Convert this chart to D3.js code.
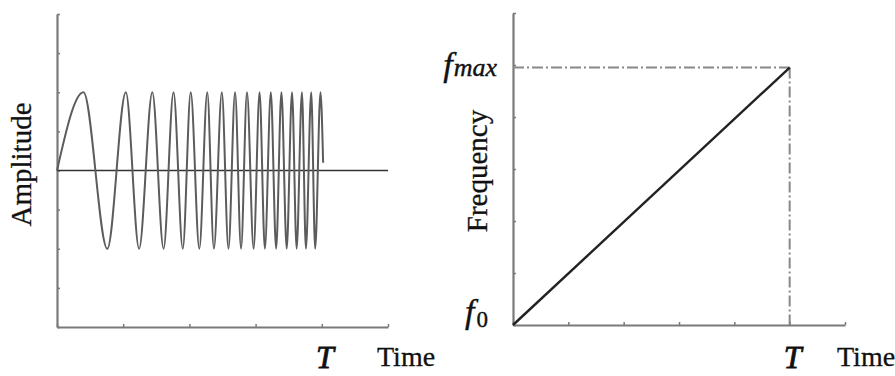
<!DOCTYPE html>
<html>
<head>
<meta charset="utf-8">
<script src="https://cdn.jsdelivr.net/npm/d3@7"></script>
<style>
  html, body { margin: 0; padding: 0; background: #fff; }
  svg { display: block; }
  text { font-family: "Liberation Serif", "DejaVu Serif", serif; fill: #111; }
</style>
</head>
<body>
<svg id="chart" width="895" height="376"></svg>
<script>
// Linear chirp: times (in axis units) of each crest and trough of the waveform
const chirpPeaks   = [0.40, 1.04, 1.44, 1.76, 2.02, 2.27, 2.49, 2.69, 2.87, 3.06, 3.23, 3.39, 3.55, 3.70, 3.84, 3.98];
const chirpTroughs = [0.76, 1.24, 1.61, 1.90, 2.15, 2.37, 2.59, 2.78, 2.97, 3.14, 3.31, 3.47, 3.62, 3.76, 3.90];
const chirpAmplitude = 2;
const chirpStart = [0, 0];
const chirpEnd = [4.02, 0.2];

// Axis tick positions
const ampTimeTicks = [0, 1, 2, 3, 4, 5];
const ampTicks = [-4, -3, -2, -1, 0, 1, 2, 3, 4];
const freqTimeTicks = [0, 1, 2, 3, 4, 5, 6];
const freqTicks = [0, 1, 2, 3, 4, 5, 6];

// Frequency sweep: time T and the start / end frequencies
const sweepT = 5;
const sweepTimes = [0, sweepT];
const sweepFreqs = [0, 4.95];

const svg = d3.select("#chart");
const axisColor = "#7a7a7a";

function styleAxis(g) {
  g.select(".domain").attr("stroke", axisColor).attr("stroke-width", 2.2);
  g.selectAll(".tick line").attr("stroke", axisColor).attr("stroke-width", 1.5);
  g.selectAll(".tick text").remove();
}

// ---------- Left panel: amplitude vs time ----------
const xA = d3.scaleLinear().domain([0, 5]).range([57, 388]);
const yA = d3.scaleLinear().domain([-4, 4]).range([327, 14]);

svg.append("g")
  .attr("transform", `translate(0,${yA(-4)})`)
  .call(d3.axisBottom(xA).tickValues(ampTimeTicks).tickSizeInner(-3).tickSizeOuter(0))
  .call(styleAxis);
svg.append("g")
  .attr("transform", `translate(${xA(0)},0)`)
  .call(d3.axisLeft(yA).tickValues(ampTicks).tickSizeInner(-3).tickSizeOuter(0))
  .call(styleAxis);

// zero reference line
svg.append("line")
  .attr("x1", xA(0)).attr("x2", xA(5))
  .attr("y1", yA(0)).attr("y2", yA(0))
  .attr("stroke", "#333").attr("stroke-width", 1.6);

// waveform through alternating crests and troughs
const extrema = chirpPeaks.map(t => [t, chirpAmplitude])
  .concat(chirpTroughs.map(t => [t, -chirpAmplitude]))
  .sort((a, b) => a[0] - b[0]);
const chirpPts = [chirpStart, ...extrema, chirpEnd];

svg.append("path")
  .datum(chirpPts)
  .attr("fill", "none")
  .attr("stroke", "#5c5c5c")
  .attr("stroke-width", 2)
  .attr("d", d3.line().x(d => xA(d[0])).y(d => yA(d[1])).curve(d3.curveMonotoneX));

svg.append("text")
  .attr("transform", `translate(31,${yA(0) - 6}) rotate(-90)`)
  .attr("text-anchor", "middle")
  .attr("font-size", 29)
  .attr("stroke", "#111").attr("stroke-width", 0.3)
  .text("Amplitude");

svg.append("text")
  .attr("x", xA(4) + 3).attr("y", 368)
  .attr("text-anchor", "middle")
  .attr("font-size", 32).attr("font-style", "italic")
  .attr("stroke", "#111").attr("stroke-width", 0.8)
  .text("T");
svg.append("text")
  .attr("x", 377).attr("y", 366)
  .attr("font-size", 28)
  .attr("stroke", "#111").attr("stroke-width", 0.3)
  .text("Time");

// ---------- Right panel: frequency vs time ----------
const xF = d3.scaleLinear().domain([0, 6]).range([513, 845]);
const yF = d3.scaleLinear().domain([0, 6]).range([325, 13]);

svg.append("g")
  .attr("transform", `translate(0,${yF(0)})`)
  .call(d3.axisBottom(xF).tickValues(freqTimeTicks).tickSizeInner(-3).tickSizeOuter(0))
  .call(styleAxis);
svg.append("g")
  .attr("transform", `translate(${xF(0)},0)`)
  .call(d3.axisLeft(yF).tickValues(freqTicks).tickSizeInner(-3).tickSizeOuter(0))
  .call(styleAxis);

// dash-dot guides to (T, f_max)
const guide = svg.append("g")
  .attr("stroke", "#888").attr("stroke-width", 2)
  .attr("stroke-dasharray", "11,3,2,3");
guide.append("line")
  .attr("x1", xF(0)).attr("x2", xF(sweepT))
  .attr("y1", yF(sweepFreqs[1])).attr("y2", yF(sweepFreqs[1]));
guide.append("line")
  .attr("x1", xF(sweepT)).attr("x2", xF(sweepT))
  .attr("y1", yF(sweepFreqs[1])).attr("y2", yF(0));

// linear frequency sweep
svg.append("path")
  .datum(sweepTimes.map((t, i) => [t, sweepFreqs[i]]))
  .attr("fill", "none")
  .attr("stroke", "#222")
  .attr("stroke-width", 2.4)
  .attr("d", d3.line().x(d => xF(d[0])).y(d => yF(d[1])));

svg.append("text")
  .attr("transform", `translate(487,${yF(3) + 2}) rotate(-90)`)
  .attr("text-anchor", "middle")
  .attr("font-size", 29)
  .attr("stroke", "#111").attr("stroke-width", 0.3)
  .text("Frequency");

// f_max and f_0 labels
const fmax = svg.append("text")
  .attr("x", 497).attr("y", yF(sweepFreqs[1]) + 8)
  .attr("text-anchor", "end")
  .attr("font-style", "italic")
  .attr("stroke", "#111").attr("stroke-width", 0.4);
fmax.append("tspan").attr("font-size", 34).text("f");
fmax.append("tspan").attr("font-size", 26).attr("dx", 1).text("max");

const f0 = svg.append("text")
  .attr("x", 465).attr("y", yF(0) - 2)
  .attr("stroke", "#111").attr("stroke-width", 0.4);
f0.append("tspan").attr("font-size", 34).attr("font-style", "italic").text("f");
f0.append("tspan").attr("font-size", 23).attr("dy", 4).attr("dx", 2).text("0");

svg.append("text")
  .attr("x", xF(sweepT) + 3).attr("y", 368)
  .attr("text-anchor", "middle")
  .attr("font-size", 32).attr("font-style", "italic")
  .attr("stroke", "#111").attr("stroke-width", 0.8)
  .text("T");
svg.append("text")
  .attr("x", 837).attr("y", 366)
  .attr("font-size", 28)
  .attr("stroke", "#111").attr("stroke-width", 0.3)
  .text("Time");
</script>
</body>
</html>
